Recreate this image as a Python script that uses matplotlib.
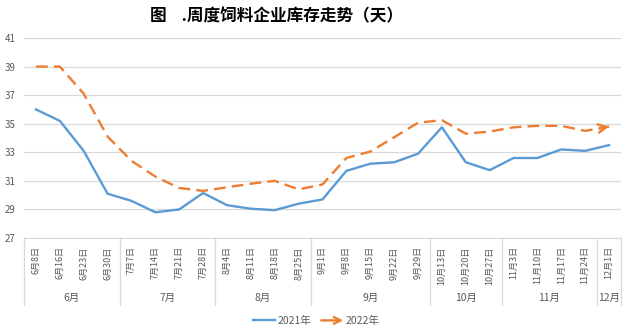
import matplotlib
matplotlib.use("Agg")
import matplotlib.pyplot as plt
from matplotlib.legend_handler import HandlerBase
from matplotlib.patches import FancyArrowPatch
from matplotlib.lines import Line2D
import matplotlib.transforms as mtransforms

plt.rcParams['font.family'] = ['Noto Sans CJK SC', 'DejaVu Sans']

dates = ['6月8日', '6月16日', '6月23日', '6月30日',
         '7月7日', '7月14日', '7月21日', '7月28日',
         '8月4日', '8月11日', '8月18日', '8月25日',
         '9月1日', '9月8日', '9月15日', '9月22日', '9月29日',
         '10月13日', '10月20日', '10月27日',
         '11月3日', '11月10日', '11月17日', '11月24日',
         '12月1日']
y2021 = [36.0, 35.2, 33.1, 30.1, 29.6, 28.8, 29.0, 30.15, 29.3, 29.05, 28.95, 29.4,
         29.7, 31.7, 32.2, 32.3, 32.9, 34.75, 32.3, 31.75, 32.6, 32.6, 33.2, 33.1, 33.5]
y2022 = [39.0, 39.0, 37.1, 34.1, 32.4, 31.3, 30.5, 30.3, 30.55, 30.8, 31.0, 30.4,
         30.75, 32.6, 33.05, 34.05, 35.07, 35.25, 34.3, 34.45, 34.75, 34.85, 34.85, 34.5, 34.8]
yticks = list(range(27, 42, 2))

blue = '#5B9BD5'
orange = '#ED7D31'
grid = '#D9D9D9'
txt = '#595959'


class ArrowHandler(HandlerBase):
    def create_artists(self, legend, orig_handle, xdescent, ydescent, width, height, fontsize, trans):
        y = height / 2 - ydescent
        a = FancyArrowPatch((-xdescent, y), (width - xdescent, y), arrowstyle='->',
                            mutation_scale=12, color=orange, lw=1.7, transform=trans,
                            shrinkA=0, shrinkB=0)
        return [a]


fig = plt.figure(figsize=(6.26, 3.29), dpi=100)
ax = fig.add_axes([24 / 626, 1 - 238 / 329, 597 / 626, 200 / 329])

x = list(range(len(dates)))
ax.plot(x, y2021, color=blue, lw=1.7, solid_joinstyle='round')
ax.plot(x, y2022, color=orange, lw=1.7, ls=(0, (5, 2.6)))
# arrow head at the last point
fx = x[-2] + 0.6 * (x[-1] - x[-2])
fy = y2022[-2] + 0.6 * (y2022[-1] - y2022[-2])
ax.annotate('', xy=(x[-1], y2022[-1]), xytext=(fx, fy),
            arrowprops=dict(arrowstyle='->', color=orange, lw=1.7, mutation_scale=15,
                            shrinkA=0, shrinkB=0))

ax.set_xlim(-0.5, len(dates) - 0.5)
ax.set_ylim(27, 41)
ax.set_yticks(yticks)
ax.yaxis.grid(True, color=grid, lw=0.9)
ax.set_axisbelow(True)
for s in ['top', 'right', 'left']:
    ax.spines[s].set_visible(False)
ax.spines['bottom'].set_color(grid)
ax.tick_params(axis='y', length=0, labelsize=7, labelcolor=txt, pad=6)

ax.set_xticks(x)
ax.set_xticklabels(dates, rotation=90, va='top', ha='center', fontsize=6.5, color=txt)
ax.tick_params(axis='x', length=0, pad=6)

# month groups
months = [d.split('月')[0] + '月' for d in dates]
groups = []
for i, m in enumerate(months):
    if groups and groups[-1][0] == m:
        groups[-1][2] = i
    else:
        groups.append([m, i, i])

trans = mtransforms.blended_transform_factory(ax.transData, ax.transAxes)
for m, a, b in groups:
    ax.text((a + b) / 2, -0.30, m, transform=trans, ha='center', va='center',
            fontsize=7.5, color=txt)
    ax.plot([a - 0.5, a - 0.5], [0, -0.335], transform=trans, color=grid, lw=0.9, clip_on=False)
ax.plot([len(dates) - 0.5] * 2, [0, -0.335], transform=trans, color=grid, lw=0.9, clip_on=False)

fig.text(277 / 626, 1 - 16 / 329, '图    .周度饲料企业库存走势（天）', ha='center', va='center',
         fontsize=12, fontweight='bold', color='black')

h1 = Line2D([], [], color=blue, lw=1.7)
h2 = Line2D([], [], color=orange, lw=1.7)
fig.legend([h1, h2], ['2021年', '2022年'], loc='center', bbox_to_anchor=(0.505, 1 - 321 / 329),
           ncol=2, frameon=False, fontsize=7.5, handlelength=2.1, handletextpad=0.2,
           columnspacing=1.0, handler_map={h2: ArrowHandler()}, labelcolor=txt)

fig.savefig('out.png', dpi=100)
